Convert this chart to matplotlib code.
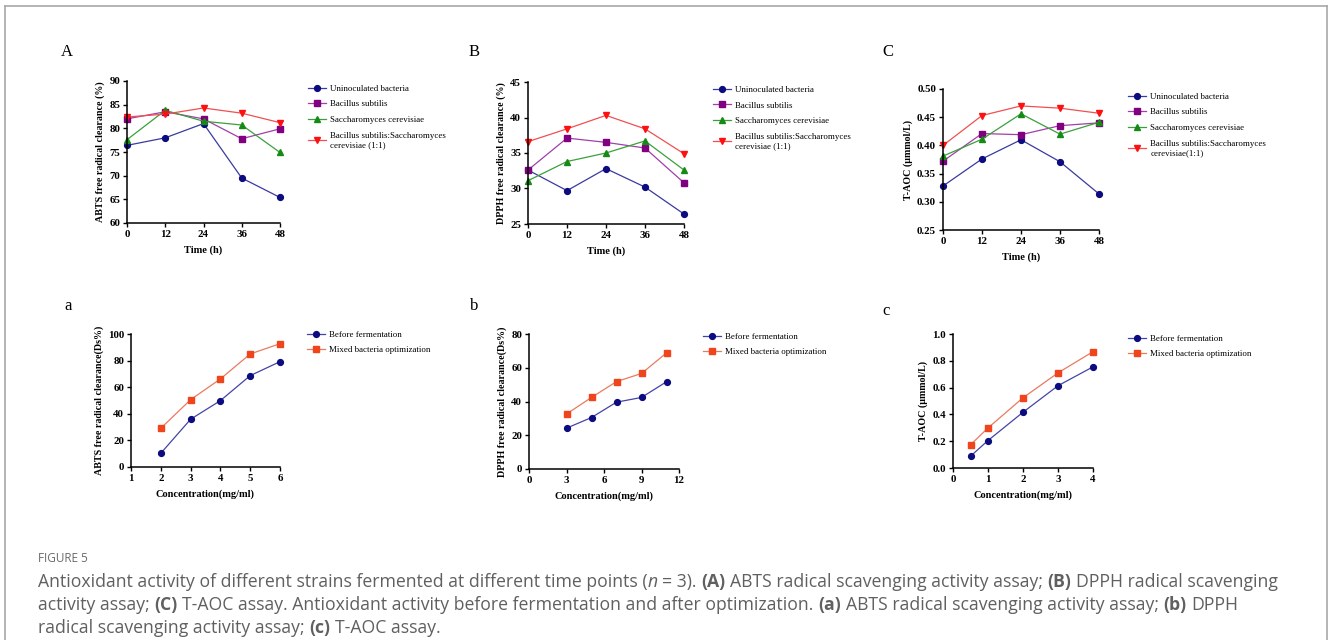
import matplotlib
matplotlib.use("Agg")
import matplotlib.pyplot as plt
from matplotlib.lines import Line2D

plt.rcParams["font.family"] = "Liberation Serif"

W, H = 1328, 640

# --- data ---
times = [0, 12, 24, 36, 48]
strain_names = [
    "Uninoculated bacteria",
    "Bacillus subtilis",
    "Saccharomyces cerevisiae",
    "Bacillus subtilis:Saccharomyces\ncerevisiae (1:1)",
]
strain_names_c = strain_names[:3] + ["Bacillus subtilis:Saccharomyces\ncerevisiae(1:1)"]

abts_uninoc = [76.4, 78.0, 81.0, 69.5, 65.4]
abts_bacillus = [82.0, 83.5, 82.0, 77.8, 79.9]
abts_sacch = [77.6, 83.8, 81.5, 80.7, 74.9]
abts_mixed = [82.4, 83.0, 84.3, 83.2, 81.2]

dpph_uninoc = [32.6, 29.7, 32.8, 30.2, 26.4]
dpph_bacillus = [32.6, 37.1, 36.5, 35.7, 30.8]
dpph_sacch = [31.1, 33.8, 35.0, 36.7, 32.6]
dpph_mixed = [36.6, 38.4, 40.3, 38.4, 34.9]

taoc_uninoc = [0.328, 0.376, 0.410, 0.371, 0.314]
taoc_bacillus = [0.372, 0.421, 0.419, 0.435, 0.440]
taoc_sacch = [0.381, 0.411, 0.456, 0.420, 0.441]
taoc_mixed = [0.400, 0.453, 0.470, 0.466, 0.457]

opt_names = ["Before fermentation", "Mixed bacteria optimization"]
abts_conc = [2, 3, 4, 5, 6]
abts_before = [10.3, 35.9, 49.9, 68.7, 79.2]
abts_opt = [29.1, 50.6, 66.2, 85.0, 92.7]

dpph_conc = [3, 5, 7, 9, 11]
dpph_before = [24.2, 30.5, 39.6, 42.4, 51.7]
dpph_opt = [32.6, 42.4, 51.8, 56.6, 68.8]

taoc_conc = [0.5, 1, 2, 3, 4]
taoc_before = [0.088, 0.205, 0.416, 0.614, 0.755]
taoc_opt = [0.173, 0.299, 0.524, 0.710, 0.868]

# --- styles ---
strain_styles = [
    dict(color="#3a3aa0", marker="o", mfc="#0c0c80", mec="#0c0c80"),
    dict(color="#a040a8", marker="s", mfc="#800080", mec="#800080"),
    dict(color="#3aa03a", marker="^", mfc="#158a15", mec="#158a15"),
    dict(color="#f05050", marker="v", mfc="#ff1010", mec="#ff1010"),
]
opt_styles = [
    dict(color="#4444a8", marker="o", mfc="#0c0c80", mec="#0c0c80"),
    dict(color="#ea7a5e", marker="s", mfc="#f0451c", mec="#f0451c"),
]

fig = plt.figure(figsize=(W / 100, H / 100), dpi=100)


def px_axes(x0, y0, x1, y1):
    return fig.add_axes([x0 / W, 1 - y1 / H, (x1 - x0) / W, (y1 - y0) / H])


def style_axes(ax, xlabel, ylabel):
    for s in ("top", "right"):
        ax.spines[s].set_visible(False)
    for s in ("left", "bottom"):
        ax.spines[s].set_linewidth(1.1)
    ax.tick_params(direction="out", length=3, width=1.0, labelsize=7.8, pad=2)
    for lab in ax.get_xticklabels() + ax.get_yticklabels():
        lab.set_fontweight("bold")
    ax.set_xlabel(xlabel, fontsize=7.5, fontweight="bold", labelpad=5)
    ax.set_ylabel(ylabel, fontsize=7.2, fontweight="bold", labelpad=3)


def add_legend(ax, names, lx, ly):
    ax.legend(names, loc="upper left", bbox_to_anchor=(lx / W, 1 - ly / H),
              bbox_transform=fig.transFigure, frameon=False, fontsize=6.4,
              handlelength=2.0, handletextpad=0.5, labelspacing=0.85,
              borderpad=0, borderaxespad=0)


def plot_series(ax, x, series, styles):
    for ys, st in zip(series, styles):
        ax.plot(x, ys, linewidth=0.9, markersize=4.2, clip_on=False, **st)


# Panel A
axA = px_axes(127, 81, 280, 223)
plot_series(axA, times, [abts_uninoc, abts_bacillus, abts_sacch, abts_mixed], strain_styles)
axA.set_xlim(0, 48)
axA.set_ylim(60, 90)
axA.set_xticks(times)
axA.set_yticks(range(60, 91, 5))
style_axes(axA, "Time (h)", "ABTS free radical clearance (%)")
add_legend(axA, strain_names, 308, 84.5)

# Panel B
axB = px_axes(528, 82, 684, 224)
plot_series(axB, times, [dpph_uninoc, dpph_bacillus, dpph_sacch, dpph_mixed], strain_styles)
axB.set_xlim(0, 48)
axB.set_ylim(25, 45)
axB.set_xticks(times)
axB.set_yticks(range(25, 46, 5))
style_axes(axB, "Time (h)", "DPPH free radical clearance (%)")
add_legend(axB, strain_names, 713, 85.5)

# Panel C
axC = px_axes(943, 89, 1099, 230)
plot_series(axC, times, [taoc_uninoc, taoc_bacillus, taoc_sacch, taoc_mixed], strain_styles)
axC.set_xlim(0, 48)
axC.set_ylim(0.25, 0.50)
axC.set_xticks(times)
axC.set_yticks([0.25, 0.30, 0.35, 0.40, 0.45, 0.50])
axC.set_yticklabels(["0.25", "0.30", "0.35", "0.40", "0.45", "0.50"])
style_axes(axC, "Time (h)", "T-AOC (μmmol/L)")
add_legend(axC, strain_names_c, 1128, 92.5)

# Panel a
axa = px_axes(131, 334, 280, 467)
plot_series(axa, abts_conc, [abts_before, abts_opt], opt_styles)
axa.set_xlim(1, 6)
axa.set_ylim(0, 100)
axa.set_xticks(range(1, 7))
axa.set_yticks(range(0, 101, 20))
style_axes(axa, "Concentration(mg/ml)", "ABTS free radical clearance(Ds%)")
add_legend(axa, opt_names, 307, 330.5)

# Panel b
axb = px_axes(529, 334, 679, 469)
plot_series(axb, dpph_conc, [dpph_before, dpph_opt], opt_styles)
axb.set_xlim(0, 12)
axb.set_ylim(0, 80)
axb.set_xticks(range(0, 13, 3))
axb.set_yticks(range(0, 81, 20))
style_axes(axb, "Concentration(mg/ml)", "DPPH free radical clearance(Ds%)")
add_legend(axb, opt_names, 703, 332.5)

# Panel c
axc = px_axes(953, 334, 1093, 468)
plot_series(axc, taoc_conc, [taoc_before, taoc_opt], opt_styles)
axc.set_xlim(0, 4)
axc.set_ylim(0, 1.0)
axc.set_xticks(range(0, 5))
axc.set_yticks([0.0, 0.2, 0.4, 0.6, 0.8, 1.0])
axc.set_yticklabels(["0.0", "0.2", "0.4", "0.6", "0.8", "1.0"])
style_axes(axc, "Concentration(mg/ml)", "T-AOC (μmmol/L)")
add_legend(axc, opt_names, 1128, 334.5)

# panel letters
for letter, x, y in [("A", 67, 52), ("B", 474, 52), ("C", 888, 52),
                     ("a", 68, 306), ("b", 474, 306), ("c", 886, 311)]:
    fig.text(x / W, 1 - y / H, letter, fontsize=12, ha="center", va="center")

# outer frame
frame_kw = dict(color="#a8a8a8", linewidth=1.2, transform=fig.transFigure)
fig.add_artist(Line2D([4.5 / W, 4.5 / W], [0, 1 - 6 / H], **frame_kw))
fig.add_artist(Line2D([4.5 / W, 1326.5 / W], [1 - 6 / H, 1 - 6 / H], **frame_kw))
fig.add_artist(Line2D([1326.5 / W, 1326.5 / W], [0, 1 - 6 / H], **frame_kw))

# caption
cap_font = ["Open Sans", "DejaVu Sans"]
cap_color = "#606060"
fig.text(38 / W, 1 - 559 / H, "FIGURE 5", fontsize=8.5, color="#6a6a6a",
         family=cap_font, va="center", ha="left")

caption_lines = [
    [("Antioxidant activity of different strains fermented at different time points (", "normal", "normal"),
     ("n", "normal", "italic"), (" = 3). ", "normal", "normal"), ("(A)", "bold", "normal"),
     (" ABTS radical scavenging activity assay; ", "normal", "normal"), ("(B)", "bold", "normal"),
     (" DPPH radical scavenging", "normal", "normal")],
    [("activity assay; ", "normal", "normal"), ("(C)", "bold", "normal"),
     (" T-AOC assay. Antioxidant activity before fermentation and after optimization. ", "normal", "normal"),
     ("(a)", "bold", "normal"), (" ABTS radical scavenging activity assay; ", "normal", "normal"),
     ("(b)", "bold", "normal"), (" DPPH", "normal", "normal")],
    [("radical scavenging activity assay; ", "normal", "normal"), ("(c)", "bold", "normal"),
     (" T-AOC assay.", "normal", "normal")],
]
caption_y = [582, 605, 628]

renderer = fig.canvas.get_renderer()
cap_size = 12.7


def text_width(s, weight="normal", style="normal"):
    t = fig.text(0, 0, s, fontsize=cap_size, family=cap_font, fontweight=weight, fontstyle=style)
    w = t.get_window_extent(renderer).width
    t.remove()
    return w


space_w = text_width("a a") - text_width("aa")

for runs, y in zip(caption_lines, caption_y):
    x = 38.0
    for s, weight, style in runs:
        core = s.strip(" ")
        lead = len(s) - len(s.lstrip(" "))
        trail = len(s) - len(s.rstrip(" "))
        x += lead * space_w
        t = fig.text(x / W, 1 - y / H, core, fontsize=cap_size, family=cap_font,
                     fontweight=weight, fontstyle=style, color=cap_color,
                     va="center", ha="left")
        x += t.get_window_extent(renderer).width + trail * space_w

fig.savefig("out.png", dpi=100)
